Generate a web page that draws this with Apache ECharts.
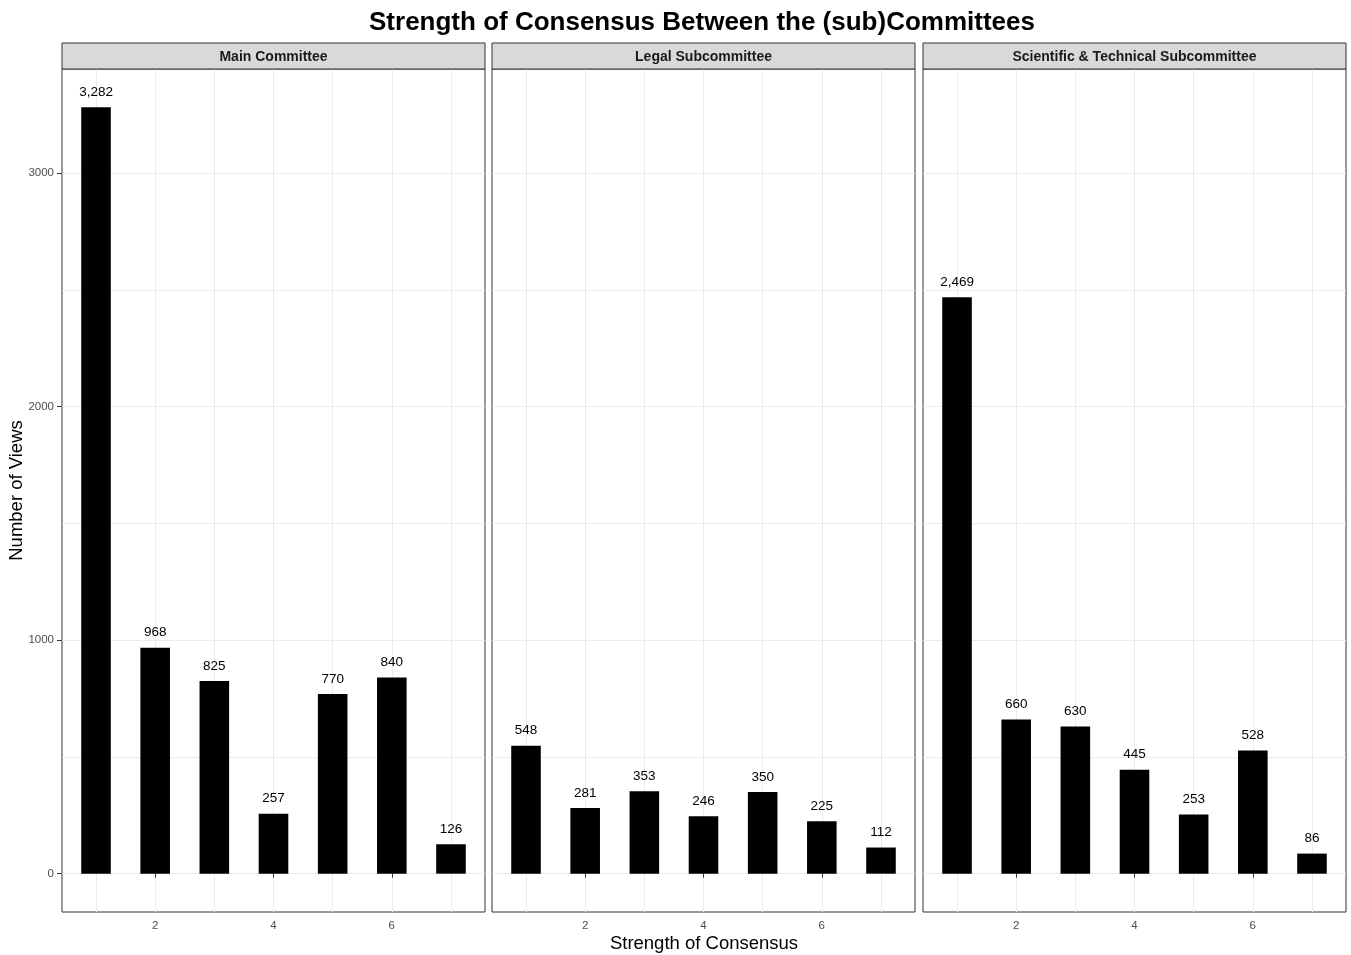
<!DOCTYPE html>
<html><head><meta charset="utf-8">
<script src="https://cdn.jsdelivr.net/npm/echarts@6/dist/echarts.min.js"></script>
<style>html,body{margin:0;padding:0;background:#fff}#chart{width:1351px;height:955px}</style>
</head><body><div id="chart"></div>
<script>
const panelNames = ['Main Committee', 'Legal Subcommittee', 'Scientific & Technical Subcommittee'];
const strengths = [1, 2, 3, 4, 5, 6, 7];
const mainValues = [3282, 968, 825, 257, 770, 840, 126];
const legalValues = [548, 281, 353, 246, 350, 225, 112];
const sciTechValues = [2469, 660, 630, 445, 253, 528, 86];
const xTickLabels = [2, 4, 6];
const yTickLabels = [0, 1000, 2000, 3000];
const titleText = 'Strength of Consensus Between the (sub)Committees';
const xTitle = 'Strength of Consensus';
const yTitle = 'Number of Views';

const panelValues = [mainValues, legalValues, sciTechValues];
const FONT = '"Liberation Sans", Arial, sans-serif';
const barWidthUnits = 0.5;
const xLo = Math.min(...strengths) - barWidthUnits / 2;
const xHi = Math.max(...strengths) + barWidthUnits / 2;
const xPad = 0.05 * (xHi - xLo);
const xMin = xLo - xPad, xMax = xHi + xPad;
const yTop = Math.max(...panelValues.flat());
const yMin = -0.05 * yTop, yMax = yTop * 1.05;

const lefts = [62, 492, 923], gridW = 423, gridTop = 69, gridH = 843;
const barPx = barWidthUnits * gridW / (xMax - xMin);

const grids = [], xAxes = [], yAxes = [], series = [], graphics = [];
panelValues.forEach((vals, i) => {
  grids.push({left: lefts[i], top: gridTop, width: gridW, height: gridH, show: true,
    borderColor: '#333333', borderWidth: 1, backgroundColor: '#fff', containLabel: false});
  xAxes.push({type: 'value', gridIndex: i, min: xMin, max: xMax, position: 'bottom',
    axisLine: {show: false},
    axisTick: {show: true, length: 4, customValues: xTickLabels, lineStyle: {color: '#333333', width: 1}},
    axisLabel: {show: true, customValues: xTickLabels, margin: 8, fontSize: 11.5, color: '#4D4D4D', fontFamily: FONT,
      formatter: v => String(v)},
    splitLine: {show: false}});
  xAxes.push({type: 'value', gridIndex: i, min: xMin, max: xMax, position: 'top', minInterval: 1, maxInterval: 1,
    axisLine: {show: false}, axisTick: {show: false}, axisLabel: {show: false},
    splitLine: {show: true, showMinLine: false, showMaxLine: false, lineStyle: {color: '#EBEBEB', width: 1}}});
  yAxes.push({type: 'value', gridIndex: i, min: yMin, max: yMax, position: 'left',
    axisLine: {show: false},
    axisTick: {show: i === 0, length: 5, customValues: yTickLabels, lineStyle: {color: '#333333', width: 1}},
    axisLabel: {show: i === 0, customValues: yTickLabels, margin: 8, fontSize: 11.5, color: '#4D4D4D', fontFamily: FONT,
      formatter: v => String(v)},
    splitLine: {show: false}});
  yAxes.push({type: 'value', gridIndex: i, min: yMin, max: yMax, position: 'right', minInterval: 500, maxInterval: 500,
    axisLine: {show: false}, axisTick: {show: false}, axisLabel: {show: false},
    splitLine: {show: true, showMinLine: false, showMaxLine: false, lineStyle: {color: '#EBEBEB', width: 1}}});
  series.push({type: 'bar', xAxisIndex: 2 * i, yAxisIndex: 2 * i,
    data: strengths.map((s, k) => [s, vals[k]]),
    barWidth: barPx, itemStyle: {color: '#000000'},
    label: {show: true, position: 'top', distance: 8, fontSize: 13.5, color: '#000', fontFamily: FONT,
      formatter: p => p.value[1].toLocaleString('en-US')},
    z: 5});
  graphics.push({type: 'rect', shape: {x: lefts[i], y: 43, width: gridW, height: 26},
    style: {fill: '#D9D9D9', stroke: '#333333', lineWidth: 1}, z: 10});
  graphics.push({type: 'text', x: lefts[i] + gridW / 2, y: 57.5,
    style: {text: panelNames[i], font: 'bold 14px ' + FONT, fill: '#1A1A1A', align: 'center', verticalAlign: 'middle'}, z: 11});
});

graphics.push({type: 'text', x: 702, y: 22.5,
  style: {text: titleText, font: 'bold 26px ' + FONT, fill: '#000', align: 'center', verticalAlign: 'middle'}, z: 11});
graphics.push({type: 'text', x: 704, y: 943.5,
  style: {text: xTitle, font: '18.5px ' + FONT, fill: '#000', align: 'center', verticalAlign: 'middle'}, z: 11});
graphics.push({type: 'text', x: 17, y: 490.5, rotation: Math.PI / 2,
  style: {text: yTitle, font: '18.5px ' + FONT, fill: '#000', align: 'center', verticalAlign: 'middle'}, z: 11});

const chart = echarts.init(document.getElementById('chart'), null, {renderer: 'canvas'});
chart.setOption({
  animation: false,
  backgroundColor: '#fff',
  grid: grids, xAxis: xAxes, yAxis: yAxes, series: series, graphic: graphics
});
</script></body></html>
